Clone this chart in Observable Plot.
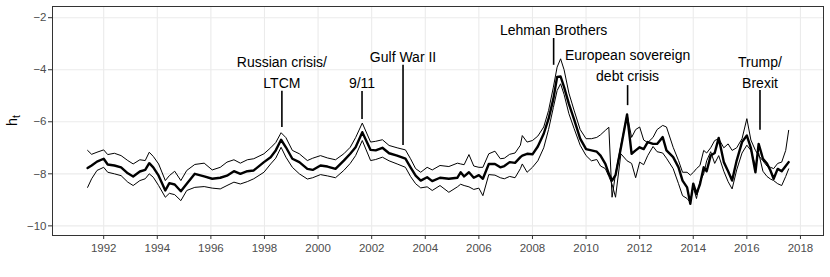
<!DOCTYPE html>
<html>
<head>
<meta charset="utf-8">
<script src="https://cdn.jsdelivr.net/npm/d3@7"></script>
<script src="https://cdn.jsdelivr.net/npm/@observablehq/plot@0.6"></script>
<style>
  body { margin: 0; background: white; }
</style>
</head>
<body>
<div id="chart"></div>
<script>
const dates = [
  1991.40,1991.55,1991.75,1992.00,1992.15,1992.40,1992.65,1992.90,1993.10,1993.35,
  1993.55,1993.70,1993.85,1994.05,1994.30,1994.45,1994.65,1994.88,1995.10,1995.40,
  1995.75,1996.05,1996.35,1996.60,1996.86,1997.10,1997.36,1997.60,1997.98,1998.23,
  1998.42,1998.62,1998.80,1999.04,1999.30,1999.60,1999.80,2000.09,2000.35,2000.65,
  2000.96,2001.20,2001.40,2001.65,2001.96,2002.15,2002.40,2002.65,2002.95,2003.26,
  2003.45,2003.64,2003.83,2004.07,2004.26,2004.55,2004.88,2005.20,2005.32,2005.45,
  2005.63,2005.81,2006.00,2006.15,2006.37,2006.60,2006.80,2006.95,2007.15,2007.35,
  2007.55,2007.62,2007.80,2008.00,2008.20,2008.42,2008.60,2008.78,2008.92,2009.05,
  2009.18,2009.36,2009.55,2009.78,2010.00,2010.20,2010.40,2010.54,2010.72,2010.85,
  2010.97,2011.10,2011.30,2011.53,2011.70,2011.85,2012.00,2012.15,2012.30,2012.50,
  2012.65,2012.86,2013.00,2013.25,2013.45,2013.60,2013.77,2013.89,2014.00,2014.12,
  2014.25,2014.39,2014.50,2014.65,2014.80,2014.95,2015.14,2015.30,2015.45,2015.62,
  2015.82,2016.00,2016.15,2016.32,2016.44,2016.60,2016.75,2016.88,2017.00,2017.15,
  2017.30,2017.45,2017.56
];
const mid = [
  -7.78,-7.68,-7.53,-7.42,-7.64,-7.68,-7.75,-7.98,-8.10,-7.91,
  -7.85,-7.59,-7.75,-8.07,-8.64,-8.36,-8.41,-8.67,-8.38,-8.00,
  -8.10,-8.19,-8.15,-8.07,-7.90,-8.00,-7.90,-7.87,-7.55,-7.36,
  -7.10,-6.69,-6.98,-7.42,-7.55,-7.81,-7.85,-7.68,-7.72,-7.81,
  -7.49,-7.23,-6.98,-6.40,-7.08,-7.10,-7.00,-7.21,-7.30,-7.42,
  -7.75,-8.07,-8.26,-8.13,-8.28,-8.15,-8.19,-8.15,-7.94,-8.10,
  -7.94,-8.15,-8.05,-8.19,-7.62,-7.62,-7.75,-7.70,-7.55,-7.58,
  -7.36,-7.30,-7.23,-7.25,-6.95,-6.46,-5.89,-5.12,-4.28,-4.26,
  -4.67,-5.31,-5.90,-6.65,-7.05,-7.10,-7.15,-7.30,-7.62,-8.00,
  -8.26,-8.05,-7.00,-5.72,-7.23,-7.10,-6.98,-7.05,-6.78,-6.85,
  -6.85,-6.59,-7.10,-7.36,-7.75,-8.26,-8.52,-9.15,-8.38,-8.77,
  -8.40,-7.75,-7.90,-7.30,-7.20,-6.62,-7.55,-7.90,-8.26,-7.49,
  -6.78,-6.53,-7.00,-7.94,-6.85,-7.42,-7.60,-7.87,-8.19,-7.81,
  -7.90,-7.70,-7.55
];
const bandHi = [
  -7.10,-7.25,-7.17,-7.08,-7.26,-7.21,-7.30,-7.49,-7.62,-7.46,
  -7.49,-7.17,-7.33,-7.62,-8.26,-8.07,-7.90,-8.26,-7.87,-7.64,
  -7.59,-7.85,-7.75,-7.55,-7.46,-7.59,-7.46,-7.42,-7.23,-7.00,
  -6.80,-6.42,-6.61,-7.10,-7.23,-7.49,-7.40,-7.30,-7.39,-7.46,
  -7.23,-6.98,-6.61,-6.05,-6.78,-6.75,-6.69,-6.91,-7.00,-7.08,
  -7.42,-7.80,-7.94,-7.75,-7.85,-7.68,-7.72,-7.59,-7.62,-7.65,
  -7.26,-7.70,-7.75,-7.75,-7.23,-7.13,-7.42,-7.40,-7.25,-7.20,
  -6.90,-6.53,-6.78,-6.72,-6.55,-6.20,-5.57,-4.67,-3.90,-3.58,
  -4.00,-4.90,-5.55,-6.30,-6.65,-6.65,-6.60,-6.50,-6.33,-6.21,
  -8.90,-8.00,-6.90,-5.72,-6.60,-6.30,-6.20,-6.70,-6.80,-6.60,
  -6.30,-6.14,-6.20,-6.98,-7.49,-7.94,-7.94,-8.05,-7.95,-7.80,
  -7.68,-7.10,-7.20,-7.00,-6.72,-6.65,-7.00,-6.85,-7.10,-7.00,
  -6.65,-5.88,-6.70,-7.10,-7.30,-7.50,-7.70,-7.75,-7.80,-7.60,
  -7.55,-7.10,-6.33
];
const bandLo = [
  -8.52,-8.19,-7.87,-7.75,-7.94,-8.00,-8.07,-8.32,-8.45,-8.26,
  -8.19,-8.00,-8.13,-8.45,-8.90,-8.75,-8.80,-9.03,-8.64,-8.52,
  -8.49,-8.55,-8.58,-8.45,-8.32,-8.39,-8.30,-8.19,-7.94,-7.62,
  -7.40,-6.98,-7.36,-7.75,-8.00,-8.20,-8.15,-8.03,-8.08,-8.15,
  -7.87,-7.60,-7.30,-6.72,-7.49,-7.45,-7.36,-7.50,-7.62,-7.75,
  -8.10,-8.38,-8.54,-8.50,-8.64,-8.45,-8.71,-8.50,-8.40,-8.45,
  -8.50,-8.60,-8.55,-8.84,-8.03,-8.05,-8.15,-8.19,-8.10,-8.15,
  -7.80,-7.62,-7.94,-7.75,-7.50,-7.00,-6.30,-5.45,-4.80,-4.54,
  -4.95,-5.69,-6.25,-6.90,-7.30,-7.50,-7.45,-7.70,-7.80,-8.10,
  -8.40,-8.90,-7.23,-7.50,-7.60,-8.15,-7.55,-7.65,-7.30,-6.95,
  -7.15,-7.20,-7.40,-7.80,-8.38,-8.84,-8.95,-9.10,-8.50,-8.95,
  -8.30,-8.00,-7.50,-7.15,-7.60,-7.30,-7.90,-8.30,-8.58,-7.85,
  -7.20,-6.90,-7.10,-7.70,-7.20,-7.90,-8.10,-8.20,-8.26,-8.38,
  -8.45,-8.10,-7.81
];

const xTicks = [1992,1994,1996,1998,2000,2002,2004,2006,2008,2010,2012,2014,2016,2018];
const yTicks = [-10,-8,-6,-4,-2];

const annLabels = ["Russian crisis/\nLTCM", "9/11", "Gulf War II", "Lehman Brothers", "European sovereign\ndebt crisis", "Trump/\nBrexit"];
const annX      = [1998.65, 2001.64, 2003.17, 2008.79, 2011.55, 2016.49];
const annTextY  = [-4.03, -4.45, -3.45, -2.41, -3.78, -4.03];
const annTop    = [-4.83, -4.84, -3.83, -2.80, -4.61, -4.80];
const annBottom = [-6.22, -5.91, -6.91, -3.83, -5.38, -6.33];

const rows = dates.map((d, i) => ({date: d, mid: mid[i], hi: bandHi[i], lo: bandLo[i]}));
const ann = annLabels.map((l, i) => ({label: l, x: annX[i], ty: annTextY[i], top: annTop[i], bottom: annBottom[i]}));

const chart = Plot.plot({
  width: 830,
  height: 277,
  marginLeft: 52,
  marginRight: 7,
  marginTop: 6,
  marginBottom: 42,
  style: {fontFamily: "'Liberation Sans', Arial, Helvetica, sans-serif", fontSize: "11px", background: "white", color: "black"},
  x: {domain: [1990.09, 2018.86]},
  y: {domain: [-10.37, -1.57]},
  marks: [
    Plot.ruleX(xTicks, {stroke: "#ebebeb", strokeWidth: 1.1}),
    Plot.ruleY(yTicks, {stroke: "#ebebeb", strokeWidth: 1.1}),
    Plot.line(rows, {x: "date", y: "hi", stroke: "black", strokeWidth: 1}),
    Plot.line(rows, {x: "date", y: "lo", stroke: "black", strokeWidth: 1}),
    Plot.line(rows, {x: "date", y: "mid", stroke: "black", strokeWidth: 2.4}),
    Plot.ruleX(ann, {x: "x", y1: "top", y2: "bottom", stroke: "black", strokeWidth: 1.6}),
    Plot.text(ann, {x: "x", y: "ty", text: "label", fontSize: 14, lineHeight: 1.52, fill: "black"}),
    Plot.axisX({ticks: xTicks, tickFormat: d => String(d), tickSize: 4, tickPadding: 4, fontSize: 11.5, label: null, stroke: "#333", fill: "#4d4d4d"}),
    Plot.axisY({ticks: yTicks, tickSize: 4, tickPadding: 2, fontSize: 11.5, label: null, stroke: "#333", fill: "#4d4d4d"}),
    Plot.frame({stroke: "#333", strokeWidth: 1})
  ]
});

document.getElementById("chart").appendChild(chart);

// y-axis title h_t with subscript
const svg = d3.select(chart);
const lab = svg.append("text")
  .attr("transform", "translate(17,120.5) rotate(-90)")
  .attr("text-anchor", "middle")
  .attr("font-size", 14.5)
  .attr("fill", "black");
lab.append("tspan").text("h");
lab.append("tspan").attr("font-size", 10.5).attr("dy", 3).text("t");
</script>
</body>
</html>
